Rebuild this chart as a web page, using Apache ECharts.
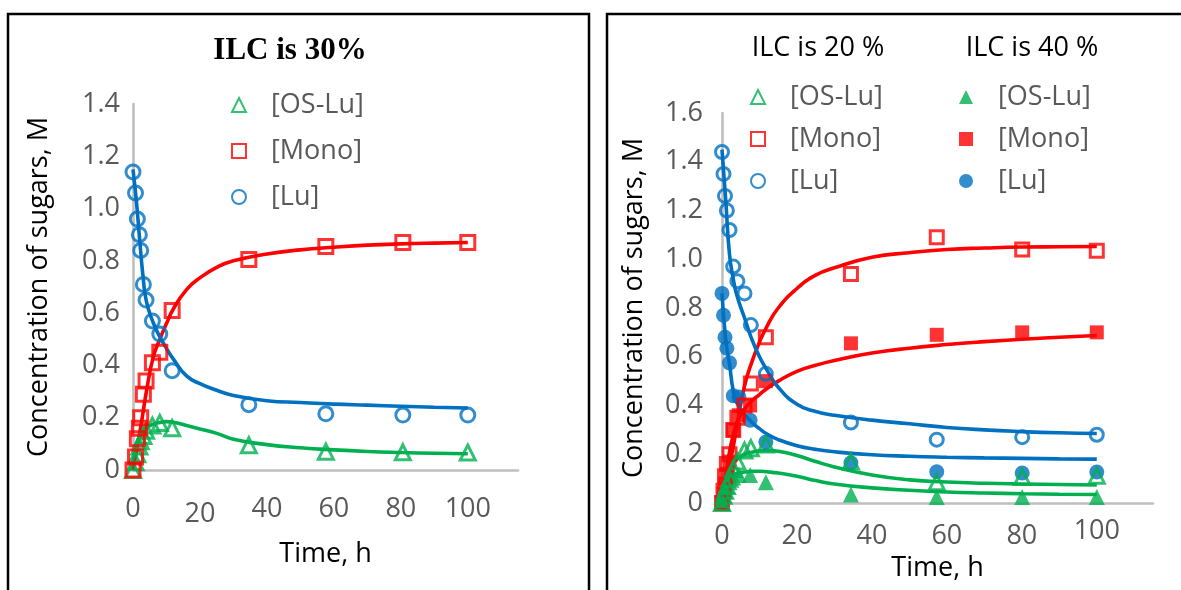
<!DOCTYPE html>
<html>
<head>
<meta charset="utf-8">
<title>Sugar concentrations vs time</title>
<script src="https://cdn.jsdelivr.net/npm/echarts@6/dist/echarts.min.js"></script>
<style>
  html, body { margin: 0; padding: 0; background: #fff; }
  #chart { width: 1181px; height: 590px; }
</style>
</head>
<body>
<div id="chart"></div>
<script>
// ---- ILC 30 % : measured points ----
const tObs30 = [0, 0.75, 1.3, 1.9, 2.3, 3.1, 3.9, 5.8, 8, 11.7, 34.6, 57.6, 80.6, 100];
const osLu30 = [0.0, 0.03, 0.06, 0.09, 0.11, 0.13, 0.15, 0.17, 0.18, 0.16, 0.095, 0.07, 0.068, 0.067];
const mono30 = [0.0, 0.05, 0.12, 0.16, 0.20, 0.29, 0.34, 0.41, 0.45, 0.61, 0.805, 0.855, 0.87, 0.87];
const lu30   = [1.14, 1.06, 0.96, 0.90, 0.84, 0.71, 0.65, 0.57, 0.52, 0.38, 0.25, 0.215, 0.21, 0.21];

// ---- ILC 30 % : model curves ----
const tFit30     = [0, 1, 2, 3, 4, 6, 8, 10, 12, 16, 20, 25, 30, 40, 50, 60, 70, 80, 90, 100];
const luFit30    = [1.15, 1.03, 0.88, 0.74, 0.645, 0.565, 0.51, 0.465, 0.425, 0.36, 0.33, 0.305, 0.285, 0.265, 0.258, 0.252, 0.248, 0.244, 0.24, 0.237];
const monoFit30  = [0, 0.07, 0.14, 0.22, 0.30, 0.43, 0.50, 0.56, 0.615, 0.69, 0.735, 0.775, 0.80, 0.826, 0.842, 0.852, 0.86, 0.865, 0.868, 0.87];
const osLuFit30  = [0, 0.09, 0.13, 0.15, 0.162, 0.175, 0.182, 0.185, 0.183, 0.17, 0.157, 0.14, 0.118, 0.097, 0.085, 0.077, 0.071, 0.067, 0.064, 0.062];

// ---- ILC 20 % : measured points ----
const tObs20 = [0, 0.4, 0.8, 1.3, 2, 3, 4.1, 6, 7.7, 11.7, 34.4, 57.3, 80.1, 100];
const osLu20 = [0, 0.03, 0.05, 0.07, 0.10, 0.14, 0.17, 0.215, 0.225, 0.24, 0.17, 0.085, 0.107, 0.112];
const mono20 = [0, 0.05, 0.11, 0.16, 0.20, 0.30, 0.35, 0.40, 0.49, 0.68, 0.94, 1.09, 1.04, 1.035];
const lu20   = [1.44, 1.35, 1.26, 1.20, 1.12, 0.97, 0.91, 0.86, 0.73, 0.53, 0.33, 0.26, 0.27, 0.28];

// ---- ILC 40 % : measured points ----
const tObs40 = [0, 0.4, 0.8, 1.3, 2, 3, 4.5, 7.5, 11.7, 34.4, 57.3, 80.1, 100];
const osLu40 = [0, 0.03, 0.05, 0.07, 0.085, 0.105, 0.115, 0.115, 0.085, 0.035, 0.025, 0.025, 0.025];
const mono40 = [0, 0.04, 0.08, 0.12, 0.17, 0.30, 0.36, 0.40, 0.50, 0.655, 0.69, 0.70, 0.70];
const lu40   = [0.86, 0.77, 0.68, 0.635, 0.575, 0.44, 0.435, 0.34, 0.25, 0.165, 0.128, 0.123, 0.127];

// ---- ILC 20 % / 40 % : model curves ----
const tFit2040   = [0, 1, 2, 3, 4, 6, 8, 10, 12, 15, 20, 25, 30, 40, 50, 60, 70, 80, 90, 100];
const luFit20    = [1.45, 1.24, 1.02, 0.92, 0.85, 0.76, 0.67, 0.60, 0.545, 0.475, 0.405, 0.375, 0.36, 0.34, 0.325, 0.31, 0.30, 0.293, 0.288, 0.285];
const monoFit20  = [0, 0.08, 0.16, 0.23, 0.32, 0.48, 0.58, 0.66, 0.725, 0.80, 0.88, 0.935, 0.965, 1.008, 1.027, 1.04, 1.046, 1.05, 1.051, 1.052];
const osLuFit20  = [0, 0.115, 0.15, 0.17, 0.18, 0.20, 0.208, 0.214, 0.216, 0.212, 0.195, 0.17, 0.148, 0.115, 0.095, 0.086, 0.081, 0.078, 0.076, 0.074];
const luFit40    = [0.86, 0.67, 0.57, 0.46, 0.41, 0.365, 0.33, 0.305, 0.283, 0.26, 0.235, 0.22, 0.21, 0.198, 0.192, 0.188, 0.185, 0.183, 0.181, 0.18];
const monoFit40  = [0, 0.11, 0.21, 0.28, 0.33, 0.385, 0.42, 0.445, 0.47, 0.50, 0.54, 0.565, 0.585, 0.615, 0.635, 0.65, 0.662, 0.672, 0.68, 0.687];
const osLuFit40  = [0, 0.09, 0.11, 0.118, 0.122, 0.127, 0.13, 0.13, 0.128, 0.123, 0.11, 0.092, 0.078, 0.062, 0.052, 0.045, 0.041, 0.038, 0.036, 0.035];

// ---- tick labels and texts ----
const xTickLabels  = ['0', '20', '40', '60', '80', '100'];
const yTickLabels30 = ['0', '0.2', '0.4', '0.6', '0.8', '1.0', '1.2', '1.4'];
const yTickLabels2040 = ['0', '0.2', '0.4', '0.6', '0.8', '1.0', '1.2', '1.4', '1.6'];
const legendLabels = { 'OS-Lu': '[OS-Lu]', 'Mono': '[Mono]', 'Lu': '[Lu]' };

const GREEN = '#00B050', RED = '#FF0000', BLUE = '#0070C0';
const AXIS_GREY = '#BFBFBF', TEXT_GREY = '#595959';
const FONT = '"Open Sans", "Noto Sans", sans-serif';

const pairs = (t, v) => t.map((x, i) => [x, v[i]]);

function openMarker(name, t, v, symbol, color, size, gi) {
  return {
    name, type: 'scatter', xAxisIndex: gi, yAxisIndex: gi, symbol, symbolSize: size,
    itemStyle: { color: 'rgba(255,255,255,0)', borderColor: color, borderWidth: 3 },
    data: pairs(t, v), z: 4, silent: true
  };
}
function solidMarker(name, t, v, symbol, color, size, gi) {
  return {
    name, type: 'scatter', xAxisIndex: gi, yAxisIndex: gi, symbol, symbolSize: size,
    itemStyle: { color: color, borderWidth: 0 },
    data: pairs(t, v), z: 4, silent: true
  };
}
function fitLine(name, t, v, color, gi) {
  return {
    name, type: 'line', xAxisIndex: gi, yAxisIndex: gi, showSymbol: false,
    smooth: 0.5,
    lineStyle: { color, width: 3.6 }, data: pairs(t, v), z: 3, silent: true
  };
}

// tick labels of the time axis; some sit a little off the common baseline
function xAxisFor(gi, nameGap, labelMargin, richFor) {
  return {
    type: 'value', gridIndex: gi, min: 0, max: 115, interval: 20,
    axisLine: { show: true, onZero: false, lineStyle: { color: AXIS_GREY, width: 2.6 } },
    axisTick: { show: false }, splitLine: { show: false },
    axisLabel: {
      color: TEXT_GREY, fontSize: 27, fontFamily: FONT, margin: labelMargin,
      formatter: v => {
        const s = xTickLabels[Math.round(v / 20)] ?? '';
        return s ? '{' + richFor(s) + '|' + s + '}' : '';
      },
      rich: {
        up: { fontSize: 27, fontFamily: FONT, color: TEXT_GREY, padding: [0, 0, 0, 0] },
        mid: { fontSize: 27, fontFamily: FONT, color: TEXT_GREY, padding: [5, 0, 0, 0] },
        low: { fontSize: 27, fontFamily: FONT, color: TEXT_GREY, padding: [10, 0, 0, 0] }
      }
    },
    name: 'Time, h', nameLocation: 'middle', nameGap,
    nameTextStyle: { color: '#000', fontSize: 27, fontFamily: FONT }
  };
}
function yAxisFor(gi, max, labels, nameGap, labelMargin) {
  return {
    type: 'value', gridIndex: gi, min: 0, max, interval: 0.2,
    axisLine: { show: true, lineStyle: { color: AXIS_GREY, width: 2.6 } },
    axisTick: { show: false }, splitLine: { show: false },
    axisLabel: {
      color: TEXT_GREY, fontSize: 27, fontFamily: FONT, margin: labelMargin,
      formatter: v => labels[Math.round(v / 0.2)] ?? ''
    },
    name: 'Concentration of sugars, M', nameLocation: 'middle', nameGap, nameRotate: 90,
    nameTextStyle: { color: '#000', fontSize: 27, fontFamily: FONT }
  };
}
function legendBlock(names, left, top, gap) {
  return {
    data: names, orient: 'vertical', left, top, itemWidth: 14, itemHeight: 14, itemGap: gap,
    selectedMode: false, padding: 0,
    formatter: n => legendLabels[n.split(' ')[0]],
    textStyle: { color: TEXT_GREY, fontSize: 27, fontFamily: FONT, lineHeight: 30, padding: [8, 0, 0, 20] }
  };
}

const chart = echarts.init(document.getElementById('chart'), null, { renderer: 'canvas' });
chart.setOption({
  animation: false,
  backgroundColor: '#fff',
  title: [
    { text: 'ILC is 30%', left: 290, top: 51, padding: 0, textAlign: 'center', textVerticalAlign: 'middle',
      textStyle: { fontFamily: '"Liberation Serif", "DejaVu Serif", serif', fontWeight: 'bold', fontSize: 31, color: '#000' } },
    { text: 'ILC is 20 %', left: 818, top: 48, padding: 0, textAlign: 'center', textVerticalAlign: 'middle',
      textStyle: { fontFamily: FONT, fontWeight: 'normal', fontSize: 27, color: '#000' } },
    { text: 'ILC is 40 %', left: 1032, top: 48, padding: 0, textAlign: 'center', textVerticalAlign: 'middle',
      textStyle: { fontFamily: FONT, fontWeight: 'normal', fontSize: 27, color: '#000' } }
  ],
  graphic: [
    { type: 'rect', shape: { x: 8, y: 14, width: 581, height: 600 }, style: { fill: 'none', stroke: '#000', lineWidth: 2.5 }, silent: true, z: 100 },
    { type: 'rect', shape: { x: 607, y: 14, width: 600, height: 600 }, style: { fill: 'none', stroke: '#000', lineWidth: 2.5 }, silent: true, z: 100 }
  ],
  legend: [
    legendBlock(['OS-Lu 30 %', 'Mono 30 %', 'Lu 30 %'], 231, 86, 8),
    legendBlock(['OS-Lu 20 %', 'Mono 20 %', 'Lu 20 %'], 750, 78, 4),
    legendBlock(['OS-Lu 40 %', 'Mono 40 %', 'Lu 40 %'], 959, 78, 4)
  ],
  grid: [
    { left: 133, top: 104, width: 385, height: 366 },
    { left: 722, top: 113, width: 431, height: 390 }
  ],
  xAxis: [
    xAxisFor(0, 71, 21, s => (s === '20' ? 'low' : 'mid')),
    xAxisFor(1, 48, 15, s => (s === '100' ? 'up' : 'mid'))
  ],
  yAxis: [yAxisFor(0, 1.4, yTickLabels30, 80, 13), yAxisFor(1, 1.6, yTickLabels2040, 74, 19)],
  series: [
    fitLine('OS-Lu 30 % fit', tFit30, osLuFit30, GREEN, 0),
    fitLine('Mono 30 % fit', tFit30, monoFit30, RED, 0),
    fitLine('Lu 30 % fit', tFit30, luFit30, BLUE, 0),
    openMarker('OS-Lu 30 %', tObs30, osLu30, 'triangle', GREEN, 15, 0),
    openMarker('Mono 30 %', tObs30, mono30, 'rect', RED, 14, 0),
    openMarker('Lu 30 %', tObs30, lu30, 'circle', BLUE, 14, 0),

    fitLine('OS-Lu 20 % fit', tFit2040, osLuFit20, GREEN, 1),
    fitLine('OS-Lu 40 % fit', tFit2040, osLuFit40, GREEN, 1),
    fitLine('Mono 20 % fit', tFit2040, monoFit20, RED, 1),
    fitLine('Mono 40 % fit', tFit2040, monoFit40, RED, 1),
    fitLine('Lu 20 % fit', tFit2040, luFit20, BLUE, 1),
    fitLine('Lu 40 % fit', tFit2040, luFit40, BLUE, 1),
    solidMarker('Lu 40 %', tObs40, lu40, 'circle', BLUE, 15, 1),
    solidMarker('Mono 40 %', tObs40, mono40, 'rect', RED, 14, 1),
    solidMarker('OS-Lu 40 %', tObs40, osLu40, 'triangle', GREEN, 16, 1),
    openMarker('Lu 20 %', tObs20, lu20, 'circle', BLUE, 13, 1),
    openMarker('Mono 20 %', tObs20, mono20, 'rect', RED, 13, 1),
    openMarker('OS-Lu 20 %', tObs20, osLu20, 'triangle', GREEN, 15, 1)
  ]
});
</script>
</body>
</html>
